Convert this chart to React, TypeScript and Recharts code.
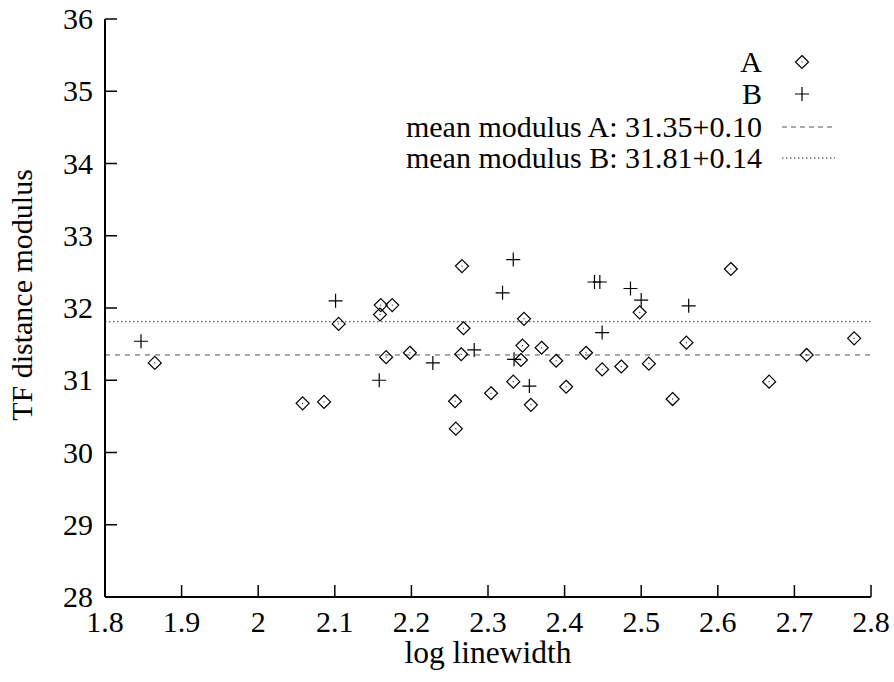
import React from 'react'
import { ScatterChart, Scatter, XAxis, YAxis, ReferenceLine, Legend } from 'recharts'

// galaxy sample A (diamonds)
const aLogWidth = [1.865, 2.058, 2.086, 2.105, 2.159, 2.16, 2.175, 2.167, 2.198, 2.257, 2.258, 2.265, 2.266, 2.268, 2.304, 2.333, 2.343, 2.345, 2.347, 2.356, 2.37, 2.389, 2.402, 2.428, 2.449, 2.474, 2.498, 2.51, 2.541, 2.559, 2.617, 2.667, 2.716, 2.778]
const aModulus = [31.24, 30.68, 30.7, 31.78, 31.91, 32.04, 32.04, 31.32, 31.38, 30.71, 30.33, 31.36, 32.58, 31.72, 30.82, 30.98, 31.28, 31.48, 31.85, 30.66, 31.45, 31.27, 30.91, 31.38, 31.15, 31.19, 31.94, 31.23, 30.74, 31.52, 32.54, 30.98, 31.35, 31.58]

// galaxy sample B (plus signs)
const bLogWidth = [1.847, 2.101, 2.158, 2.228, 2.282, 2.319, 2.333, 2.334, 2.354, 2.439, 2.446, 2.449, 2.486, 2.5, 2.562]
const bModulus = [31.54, 32.1, 31.0, 31.24, 31.42, 32.21, 32.67, 31.29, 30.92, 32.36, 32.36, 31.66, 32.27, 32.11, 32.03]

const meanA = 31.35
const meanB = 31.81

const xTicks = [1.8, 1.9, 2.0, 2.1, 2.2, 2.3, 2.4, 2.5, 2.6, 2.7, 2.8]
const yTicks = [28, 29, 30, 31, 32, 33, 34, 35, 36]

const legendLabels = ['A', 'B', 'mean modulus A: 31.35+0.10', 'mean modulus B: 31.81+0.14']

const FONT = '"Liberation Serif", "Times New Roman", serif'
const FS = 30
const LABEL_FS = 31.5
const TICK = 12

const dataA = aLogWidth.map((x, i) => ({ x, y: aModulus[i] }))
const dataB = bLogWidth.map((x, i) => ({ x, y: bModulus[i] }))

const Diamond = ({ cx, cy }: any) => (
  <g>
    <path d={`M${cx},${cy - 6.5} L${cx + 6.5},${cy} L${cx},${cy + 6.5} L${cx - 6.5},${cy} Z`} fill="none" stroke="#000" strokeWidth={1.2} />
    <rect x={cx - 0.5} y={cy - 0.5} width={1} height={1} fill="#000" />
  </g>
)

const Plus = ({ cx, cy }: any) => (
  <path d={`M${cx - 7},${cy} L${cx + 7},${cy} M${cx},${cy - 7} L${cx},${cy + 7}`} stroke="#000" strokeWidth={1.2} />
)

// ticks point inward, gnuplot style
const BottomTick = ({ x, y, payload }: any) => (
  <g>
    <line x1={x} y1={y} x2={x} y2={y - TICK} stroke="#000" strokeWidth={1.5} />
    <text x={x} y={y + 35} textAnchor="middle" fontFamily={FONT} fontSize={FS} fill="#000">
      {payload.value}
    </text>
  </g>
)

const TopTick = ({ x, y }: any) => (
  <line x1={x} y1={y} x2={x} y2={y + TICK} stroke="#000" strokeWidth={1.5} />
)

const LeftTick = ({ x, y, payload }: any) => (
  <g>
    <line x1={x} y1={y} x2={x + TICK} y2={y} stroke="#000" strokeWidth={1.5} />
    <text x={x - 12} y={y + 10} textAnchor="end" fontFamily={FONT} fontSize={FS} fill="#000">
      {payload.value}
    </text>
  </g>
)

const RightTick = ({ x, y }: any) => (
  <line x1={x} y1={y} x2={x - TICK} y2={y} stroke="#000" strokeWidth={1.5} />
)

const LegendBox = () => {
  const rows = [22, 54, 87, 118]
  return (
    <svg width={470} height={140} style={{ display: 'block' }}>
      {legendLabels.map((label, i) => (
        <text key={label} x={382} y={rows[i] + 10} textAnchor="end" fontFamily={FONT} fontSize={FS} fill="#000">
          {label}
        </text>
      ))}
      <Diamond cx={422} cy={rows[0]} />
      <Plus cx={422} cy={rows[1]} />
      <line x1={402} x2={455} y1={rows[2]} y2={rows[2]} stroke="#555" strokeDasharray="5 4" />
      <line x1={402} x2={455} y1={rows[3]} y2={rows[3]} stroke="#333" strokeDasharray="1.5 2.5" />
    </svg>
  )
}

const App = () => {
  return (
    <div style={{ position: 'absolute', left: 0, top: 0, width: 894, height: 682, background: '#fff' }}>
      <ScatterChart width={894} height={682} margin={{ top: 19, right: 23, bottom: 0, left: 0 }}>
        <XAxis
          dataKey="x"
          type="number"
          domain={[1.8, 2.8]}
          ticks={xTicks}
          interval={0}
          allowDataOverflow
          height={85}
          tickSize={0}
          tickMargin={0}
          tick={<BottomTick />}
          axisLine={{ stroke: '#000', strokeWidth: 2 }}
          label={{
            content: (props: any) => {
              const vb = props.viewBox
              return (
                <text x={vb.x + vb.width / 2} y={vb.y + 66} textAnchor="middle" fontFamily={FONT} fontSize={LABEL_FS} fill="#000">
                  log linewidth
                </text>
              )
            },
          }}
        />
        <XAxis
          xAxisId="top"
          orientation="top"
          type="number"
          domain={[1.8, 2.8]}
          ticks={xTicks}
          interval={0}
          allowDataOverflow
          height={0}
          tickSize={0}
          tickMargin={0}
          tick={<TopTick />}
          axisLine={{ stroke: '#000', strokeWidth: 2 }}
        />
        <YAxis
          dataKey="y"
          type="number"
          domain={[28, 36]}
          ticks={yTicks}
          interval={0}
          allowDataOverflow
          width={105}
          tickSize={0}
          tickMargin={0}
          tick={<LeftTick />}
          axisLine={{ stroke: '#000', strokeWidth: 2 }}
          label={{
            content: () => (
              <text x={32} y={295} transform="rotate(-90, 32, 295)" textAnchor="middle" fontFamily={FONT} fontSize={FS} fill="#000">
                TF distance modulus
              </text>
            ),
          }}
        />
        <YAxis
          yAxisId="right"
          orientation="right"
          type="number"
          domain={[28, 36]}
          ticks={yTicks}
          interval={0}
          allowDataOverflow
          width={0}
          tickSize={0}
          tickMargin={0}
          tick={<RightTick />}
          axisLine={{ stroke: '#000', strokeWidth: 2 }}
        />
        <ReferenceLine y={meanA} stroke="#555" strokeDasharray="5 5" />
        <ReferenceLine y={meanB} stroke="#333" strokeDasharray="1.5 2.5" />
        <Scatter name="A" data={dataA} shape={<Diamond />} isAnimationActive={false} />
        <Scatter name="B" data={dataB} shape={<Plus />} isAnimationActive={false} />
        <Legend
          layout="horizontal"
          verticalAlign="middle"
          align="center"
          wrapperStyle={{ position: 'absolute', left: 380, top: 40, width: 470, height: 140 }}
          content={() => <LegendBox />}
        />
      </ScatterChart>
    </div>
  )
}

export default App
